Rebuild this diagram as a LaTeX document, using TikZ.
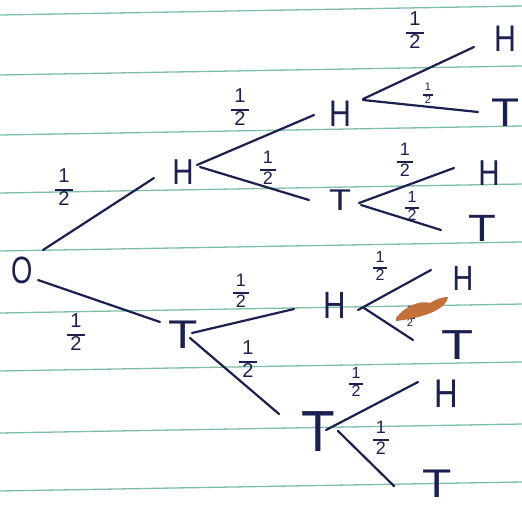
\documentclass[tikz,border=0pt]{standalone}
\usepackage{fontspec}
\setmainfont{Liberation Sans}
\definecolor{ink}{RGB}{28,32,80}
\definecolor{paperline}{RGB}{125,192,165}
\definecolor{stain}{RGB}{196,112,58}
\newcommand{\hlf}[1]{{\fontsize{#1}{#1}\selectfont\setlength{\arrayrulewidth}{1.6pt}\renewcommand{\arraystretch}{1.05}\begin{tabular}{@{\,}c@{\,}}1\\\hline 2\end{tabular}}}
\newcommand{\nH}{\scalebox{0.82}[1]{H}}
\newcommand{\nT}[1]{\scalebox{#1}[1]{T}}
\begin{document}
\begin{tikzpicture}[x=1pt,y=-1pt,
  letter/.style={text=ink,inner sep=0pt,font=\fontsize{#1}{#1}\selectfont},
  frac/.style={text=ink,inner sep=0pt},
  link/.style={draw=ink,line width=2.2pt,line cap=round},
  ruled/.style={draw=paperline,line width=1.3pt}]
\fill[white] (0,0) rectangle (522,506);
\useasboundingbox (0,0) rectangle (522,506);
\foreach \yy in {15,75,135,193,251,313,371,433,491}
  \draw[ruled] (0,\yy) -- (522,\yy-9);

% nodes
\node[letter=38] (O)  at (22,270) {\scalebox{0.72}[1]{O}};
\node[letter=36] (H1) at (183,172) {\nH};
\node[letter=40] (T1) at (183,335) {\nT{1.2}};
\node[letter=37] (H2) at (340,114) {\nH};
\node[letter=30] (T2) at (340,200) {\nT{1.2}};
\node[letter=37] (H3) at (505,39) {\nH};
\node[letter=40] (T3) at (506,113) {\nT{1.15}};
\node[letter=36] (H4) at (489,173) {\nH};
\node[letter=38] (T4) at (482,228) {\nT{1.2}};
\node[letter=58] (T5) at (318,432) {\nT{0.95}};
\node[letter=38] (H5) at (335,305) {\nH};
\node[letter=35] (H6) at (463,278) {\nH};
\node[letter=42] (T6) at (458,345) {\nT{1.25}};
\node[letter=40] (H7) at (446,394) {\nH};
\node[letter=40] (T7) at (437,484) {\nT{1.2}};

% connectors
\draw[link] ([shift={(21,-20)}]O.center) -- ([shift={(-29,6)}]H1.center);
\draw[link] ([shift={(16,10)}]O.center) -- ([shift={(-23,-13)}]T1.center);
\draw[link] ([shift={(14,-7)}]H1.center) -- ([shift={(-26,1)}]H2.center);
\draw[link] ([shift={(17,-5)}]H1.center) -- ([shift={(-31,0)}]T2.center);
\draw[link] ([shift={(23,-15)}]H2.center) -- ([shift={(-31,8)}]H3.center);
\draw[link] ([shift={(23,-14)}]H2.center) -- ([shift={(-28,-1)}]T3.center);
\draw[link] ([shift={(19,3)}]T2.center) -- ([shift={(-35,-5)}]H4.center);
\draw[link] ([shift={(21,5)}]T2.center) -- ([shift={(-41,2)}]T4.center);
\draw[link] ([shift={(9,-2)}]T1.center) -- ([shift={(-41,4)}]H5.center);
\draw[link] ([shift={(7,3)}]T1.center) -- ([shift={(-39,-18)}]T5.center);
\draw[link] ([shift={(23,5)}]H5.center) -- ([shift={(-32,-8)}]H6.center);
\draw[link] ([shift={(29,3)}]H5.center) -- ([shift={(-45,-5)}]T6.center);
\draw[link] ([shift={(8,-2)}]T5.center) -- ([shift={(-28,-12)}]H7.center);
\draw[link] ([shift={(20,-1)}]T5.center) -- ([shift={(-43,2)}]T7.center);

% probability labels
\node[frac] (l1)  at (64,190)  {\hlf{20}};
\node[frac] (l2)  at (76,335)  {\hlf{20}};
\node[frac] (l3)  at (240,110) {\hlf{20}};
\node[frac] (l4)  at (268,170) {\hlf{18}};
\node[frac] (l5)  at (415,33)  {\hlf{20}};
\node[frac] (l6)  at (428,95)  {\hlf{11}};
\node[frac] (l7)  at (405,162) {\hlf{18}};
\node[frac] (l8)  at (412,208) {\hlf{16}};
\node[frac] (l9)  at (241,293) {\hlf{18}};
\node[frac] (l10) at (248,362) {\hlf{20}};
\node[frac] (l11) at (380,268) {\hlf{16}};
\node[frac] (l12) at (410,318) {\hlf{11}};
\node[frac] (l13) at (356,384) {\hlf{16}};
\node[frac] (l14) at (381,440) {\hlf{18}};

% stain
\fill[stain] (396,318) .. controls (405,306) and (420,300) .. (430,303)
  .. controls (436,299) and (442,297) .. (448,297)
  .. controls (447,307) and (430,317) .. (396,321) -- cycle;
\end{tikzpicture}
\end{document}
